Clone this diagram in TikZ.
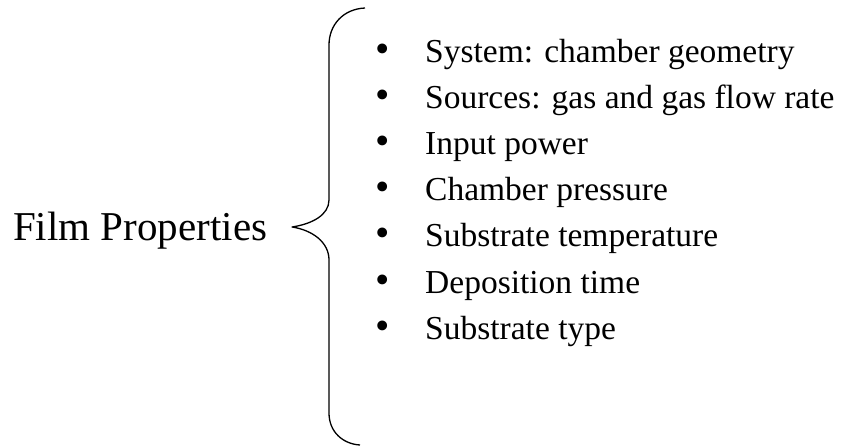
\documentclass[tikz,border=0pt]{standalone}
\usepackage{fontspec}
\setmainfont{Liberation Serif}
\begin{document}
\begin{tikzpicture}[x=1pt,y=-1pt,
  itemtext/.style={anchor=base west,inner sep=0pt,font=\fontsize{33.5}{40}\selectfont},
  bulletmark/.style={anchor=base,inner sep=0pt,font=\fontsize{41}{46}\selectfont},
  bigtext/.style={anchor=base west,inner sep=0pt,font=\fontsize{41}{49}\selectfont},
  bracestyle/.style={draw=black,line width=1.3pt,line join=round}]
\useasboundingbox (0,0) rectangle (848,446);
\node[bigtext] (film) at (13,241) {Film Properties};
\coordinate (btop) at (365,8);
\coordinate (bup) at (329,45);
\coordinate (bmidtop) at (329,200);
\coordinate (btip) at (292,227);
\coordinate (bmidbot) at (329,260);
\coordinate (blow) at (329,413);
\coordinate (bbot) at (360,445);
\path[bracestyle] (btop) .. controls (343,9) and (329,25) .. (bup)
  -- (bmidtop) .. controls (329,215) and (312,224) .. (btip)
  .. controls (312,230) and (329,242) .. (bmidbot)
  -- (blow) .. controls (329,432) and (343,444) .. (bbot);
\foreach \i/\t in {0/{System: chamber geometry},1/{Sources: gas and gas flow rate},2/{Input power},3/{Chamber pressure},4/{Substrate temperature},5/{Deposition time},6/{Substrate type}}{
  \node[bulletmark] (b\i) at (383,63+46*\i) {•};
  \node[itemtext] (t\i) at (425,63+46*\i) {\t};
}
\end{tikzpicture}
\end{document}
